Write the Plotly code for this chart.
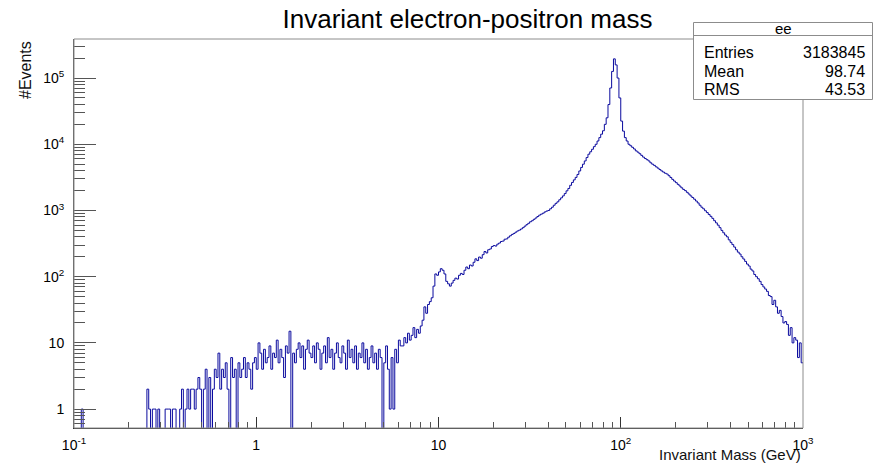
import numpy as np
import plotly.graph_objects as go

# ---- data: histogram "ee" (log-spaced bins, 0.1 .. 1000 GeV) ----
n_bins = 400
m_min, m_max = 0.1, 1000.0

counts_0_39 = [0, 0, 0, 0, 1] + [0] * 35
counts_40_99 = [2, 1, 0, 1, 1, 0, 1, 0, 0, 0, 1, 1, 1, 0, 1, 1, 0, 0, 1, 2,
                0, 1, 2, 1, 2, 2, 1, 2, 3, 2, 0, 2, 4, 0, 3, 0, 2, 4, 3, 7,
                2, 4, 3, 5, 2, 0, 6, 3, 4, 0, 5, 3, 4, 6, 3, 5, 4, 2, 5, 6]
counts_100_179 = [4, 10, 7, 4, 8, 5, 6, 9, 4, 7, 6, 11, 5, 8, 6, 3, 9, 7, 15, 0,
                  7, 5, 8, 10, 6, 9, 4, 8, 11, 7, 6, 9, 5, 10, 8, 4, 7, 9, 5, 12,
                  6, 8, 4, 7, 10, 6, 5, 9, 7, 4, 11, 6, 8, 5, 9, 4, 7, 6, 10, 5,
                  8, 4, 6, 9, 5, 7, 4, 8, 6, 0, 5, 9, 4, 1, 6, 1, 8, 5, 11, 9]
counts_180_259 = [9, 12, 10, 14, 11, 13, 17, 12, 16, 14, 18, 22, 35, 28, 38, 42, 48, 72, 110, 105,
                  118, 132, 125, 110, 85, 78, 72, 80, 88, 95, 92, 105, 112, 108, 125, 140, 132, 150, 145, 165,
                  186, 175, 198, 190, 215, 240, 228, 255, 262, 285, 295, 290, 310, 322, 340, 345, 368, 372, 395, 415,
                  435, 450, 470, 490, 505, 525, 550, 580, 610, 640, 675, 700, 735, 770, 810, 850, 880, 910, 950, 980]
counts_260_319 = [1000, 1060, 1120, 1200, 1280, 1350, 1450, 1550, 1660, 1800, 1980, 2150, 2400, 2650, 2900, 3160, 3500, 3950, 4470, 5000,
                  5600, 6300, 7080, 7700, 8400, 9200, 10000, 11200, 12600, 14200, 16000, 20000, 25100, 39800, 70800, 126000, 195000, 158000, 100000, 50100,
                  22400, 15800, 12600, 11200, 10000, 9500, 9000, 8500, 7950, 7600, 7200, 6800, 6400, 6100, 5850, 5600, 5250, 5000, 4800, 4560]
counts_320_399 = [4360, 4150, 3960, 3800, 3650, 3550, 3350, 3150, 2950, 2780, 2630, 2480, 2340, 2200, 2080, 1995, 1880, 1770, 1660, 1570,
                  1480, 1390, 1300, 1200, 1120, 1060, 990, 930, 870, 815, 760, 700, 650, 600, 550, 500, 460, 425, 400, 360,
                  330, 305, 280, 255, 235, 220, 200, 185, 170, 155, 145, 130, 122, 108, 100, 93, 85, 76, 70, 65,
                  60, 52, 50, 38, 44, 35, 28, 31, 25, 20, 21, 19, 13, 17, 10, 12, 11, 6, 10, 5]

counts = counts_0_39 + counts_40_99 + counts_100_179 + counts_180_259 + counts_260_319 + counts_320_399

x_tickvals = [0.1, 1, 10, 100, 1000]
x_ticktext = ["10<sup>-1</sup>", "1", "10", "10<sup>2</sup>", "10<sup>3</sup>"]
y_tickvals = [1, 10, 100, 1000, 10000, 100000]
y_ticktext = ["1", "10", "10<sup>2</sup>", "10<sup>3</sup>", "10<sup>4</sup>", "10<sup>5</sup>"]

stats_name = "ee"
stats_labels = ["Entries", "Mean", "RMS"]
stats_values = ["3183845", "98.74", "43.53"]

title_text = "Invariant electron-positron mass"
x_title = "Invariant Mass (GeV)"
y_title = "#Events"

# ---- figure geometry ----
W, H = 873, 473
L, R, T, B = 74, 803, 39, 428


def px(xp):
    return (xp - L) / (R - L)


def py(yp):
    return (B - yp) / (B - T)


edges = np.logspace(np.log10(m_min), np.log10(m_max), n_bins + 1)
c = np.array(counts, dtype=float)
y_plot = np.where(c > 0, c, 1e-3)
y_step = np.append(y_plot, y_plot[-1])

fig = go.Figure()
fig.add_trace(go.Scatter(x=edges, y=y_step, mode="lines", line_shape="hv",
                         line=dict(color="#0a0a9e", width=1), hoverinfo="skip",
                         showlegend=False))

minor_x = [k * 10.0 ** e for e in range(-1, 3) for k in range(2, 10)]
minor_y = [k * 10.0 ** e for e in range(-1, 6) for k in range(2, 10)]

axis_font = dict(family="Liberation Sans, Arial, sans-serif", size=14, color="black")

fig.update_xaxes(type="log", range=[-1, 3], showgrid=False, zeroline=False,
                 showline=True, linecolor="#333", linewidth=1,
                 ticks="inside", ticklen=11, tickcolor="#333",
                 tickmode="array", tickvals=x_tickvals, ticktext=x_ticktext,
                 tickfont=axis_font, ticklabelstandoff=4,
                 minor=dict(ticks="inside", ticklen=6, tickcolor="#555",
                            tickmode="array", tickvals=minor_x))
fig.update_yaxes(type="log", range=[np.log10(0.518), 5.59], showgrid=False, zeroline=False,
                 showline=True, linecolor="#555", linewidth=1,
                 ticks="inside", ticklen=22, tickcolor="#555",
                 tickmode="array", tickvals=y_tickvals, ticktext=y_ticktext,
                 tickfont=axis_font, ticklabelstandoff=6,
                 minor=dict(ticks="inside", ticklen=11, tickcolor="#555",
                            tickmode="array", tickvals=minor_y))

shapes = [
    # frame
    dict(type="rect", xref="paper", yref="paper", x0=0, x1=1, y0=0, y1=1,
         line=dict(color="#8c8c8c", width=1), layer="above"),
    # stats box
    dict(type="rect", xref="paper", yref="paper", x0=px(693.5), x1=px(872.5),
         y0=py(99.5), y1=py(22.5), line=dict(color="#8c8c8c", width=1),
         fillcolor="white", layer="above"),
    dict(type="line", xref="paper", yref="paper", x0=px(693.5), x1=px(872.5),
         y0=py(35.5), y1=py(35.5), line=dict(color="#8c8c8c", width=1), layer="above"),
]

txt_font = dict(family="Liberation Sans, Arial, sans-serif", size=16, color="black")
annotations = [
    dict(text=stats_name, xref="paper", yref="paper", x=px(783), y=py(29),
         xanchor="center", yanchor="middle", showarrow=False,
         font=dict(family="Liberation Sans, Arial, sans-serif", size=15, color="black")),
]
row_y = [52, 71, 89]
for lab, val, yy in zip(stats_labels, stats_values, row_y):
    annotations.append(dict(text=lab, xref="paper", yref="paper", x=px(702), y=py(yy),
                            xanchor="left", yanchor="middle", showarrow=False, font=txt_font))
    annotations.append(dict(text=val, xref="paper", yref="paper", x=px(867), y=py(yy),
                            xanchor="right", yanchor="middle", showarrow=False, font=txt_font))

annotations.append(dict(text=x_title, xref="paper", yref="paper", x=1.0, y=py(455),
                        xanchor="right", yanchor="middle", showarrow=False,
                        font=dict(family="Liberation Sans, Arial, sans-serif", size=15, color="#111")))
annotations.append(dict(text=y_title, xref="paper", yref="paper", x=px(25), y=1.0,
                        xanchor="center", yanchor="top", textangle=-90, showarrow=False,
                        font=dict(family="Liberation Sans, Arial, sans-serif", size=16, color="#111")))

fig.update_layout(
    width=W, height=H,
    margin=dict(l=L, r=W - R, t=T, b=H - B, pad=0),
    paper_bgcolor="white", plot_bgcolor="white",
    title=dict(text=title_text, x=px(467.5), xref="paper", xanchor="center",
               y=1 - 19 / H, yref="container", yanchor="middle",
               font=dict(family="Liberation Sans, Arial, sans-serif", size=26, color="black")),
    shapes=shapes, annotations=annotations, showlegend=False,
)

fig.write_html("out.html", config={"displayModeBar": False})
